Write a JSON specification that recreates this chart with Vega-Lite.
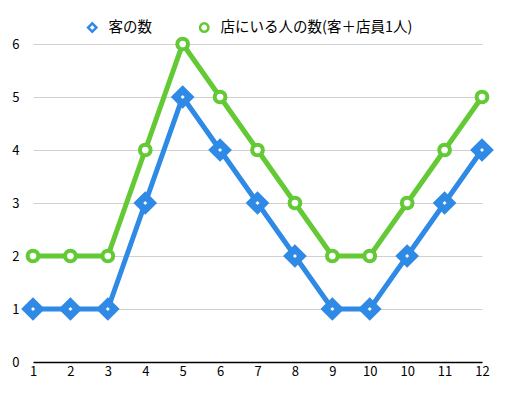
{
  "$schema": "https://vega.github.io/schema/vega-lite/v6.json",
  "width": 449,
  "height": 318,
  "autosize": "none",
  "padding": {"left": 33, "top": 44, "right": 25, "bottom": 44},
  "background": "white",
  "config": {
    "font": "Noto Sans CJK JP",
    "view": {"stroke": null},
    "axisY": {
      "domain": false,
      "ticks": false,
      "gridColor": "#d0d0d0",
      "gridWidth": 1,
      "labelColor": "#000000",
      "labelFontSize": 13,
      "labelPadding": 14,
      "title": null,
      "tickCount": 6
    },
    "axisX": {
      "domainColor": "#000000",
      "domainWidth": 1.5,
      "ticks": false,
      "grid": false,
      "labelColor": "#000000",
      "labelFontSize": 13,
      "labelAngle": 0,
      "labelPadding": 3,
      "title": null
    },
    "legend": {
      "labelFontSize": 14.5,
      "labelColor": "#000000",
      "labelLimit": 400,
      "symbolStrokeWidth": 2.5,
      "symbolSize": 70,
      "columnPadding": 43,
      "labelOffset": 9
    }
  },
  "data": {
    "values": [
      {"idx": 1, "series": "客の数", "value": 1},
      {"idx": 2, "series": "客の数", "value": 1},
      {"idx": 3, "series": "客の数", "value": 1},
      {"idx": 4, "series": "客の数", "value": 3},
      {"idx": 5, "series": "客の数", "value": 5},
      {"idx": 6, "series": "客の数", "value": 4},
      {"idx": 7, "series": "客の数", "value": 3},
      {"idx": 8, "series": "客の数", "value": 2},
      {"idx": 9, "series": "客の数", "value": 1},
      {"idx": 10, "series": "客の数", "value": 1},
      {"idx": 11, "series": "客の数", "value": 2},
      {"idx": 12, "series": "客の数", "value": 3},
      {"idx": 13, "series": "客の数", "value": 4},
      {"idx": 1, "series": "店にいる人の数(客＋店員1人)", "value": 2},
      {"idx": 2, "series": "店にいる人の数(客＋店員1人)", "value": 2},
      {"idx": 3, "series": "店にいる人の数(客＋店員1人)", "value": 2},
      {"idx": 4, "series": "店にいる人の数(客＋店員1人)", "value": 4},
      {"idx": 5, "series": "店にいる人の数(客＋店員1人)", "value": 6},
      {"idx": 6, "series": "店にいる人の数(客＋店員1人)", "value": 5},
      {"idx": 7, "series": "店にいる人の数(客＋店員1人)", "value": 4},
      {"idx": 8, "series": "店にいる人の数(客＋店員1人)", "value": 3},
      {"idx": 9, "series": "店にいる人の数(客＋店員1人)", "value": 2},
      {"idx": 10, "series": "店にいる人の数(客＋店員1人)", "value": 2},
      {"idx": 11, "series": "店にいる人の数(客＋店員1人)", "value": 3},
      {"idx": 12, "series": "店にいる人の数(客＋店員1人)", "value": 4},
      {"idx": 13, "series": "店にいる人の数(客＋店員1人)", "value": 5}
    ]
  },
  "encoding": {
    "x": {
      "field": "idx",
      "type": "ordinal",
      "scale": {"type": "point", "padding": 0},
      "axis": {"labelExpr": "datum.value > 10 ? datum.value - 1 : datum.value"}
    },
    "y": {
      "field": "value",
      "type": "quantitative",
      "scale": {"domain": [0, 6], "nice": false}
    },
    "color": {
      "field": "series",
      "type": "nominal",
      "scale": {
        "domain": ["客の数", "店にいる人の数(客＋店員1人)"],
        "range": ["#2f8ae6", "#63c934"]
      },
      "legend": {
        "title": null,
        "orient": "none",
        "direction": "horizontal",
        "legendX": 52,
        "legendY": -24
      }
    }
  },
  "layer": [
    {
      "mark": {"type": "line", "strokeWidth": 5},
      "encoding": {}
    },
    {
      "mark": {"type": "point", "filled": false, "fill": "white", "opacity": 1},
      "encoding": {
        "shape": {
          "field": "series",
          "type": "nominal",
          "scale": {
            "domain": ["客の数", "店にいる人の数(客＋店員1人)"],
            "range": ["diamond", "circle"]
          },
          "legend": {
            "title": null,
            "orient": "none",
            "direction": "horizontal",
            "legendX": 52,
            "legendY": -24
          }
        },
        "size": {
          "condition": {"test": "datum.series == '客の数'", "value": 190},
          "value": 115
        },
        "strokeWidth": {
          "condition": {"test": "datum.series == '客の数'", "value": 7},
          "value": 4
        }
      }
    }
  ]
}
